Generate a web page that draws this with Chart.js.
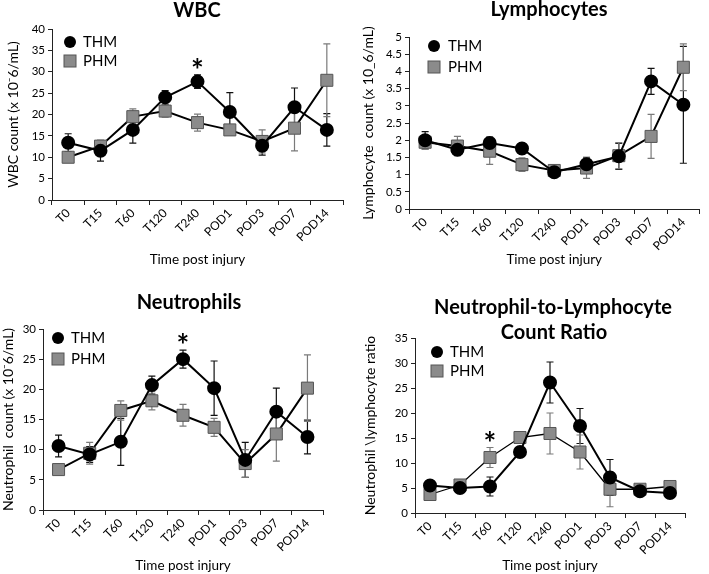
<!DOCTYPE html>
<html>
<head>
<meta charset="utf-8">
<script src="https://cdn.jsdelivr.net/npm/chart.js@4.4.1/dist/chart.umd.min.js"></script>
<style>
  body { margin: 0; background: #fff; width: 709px; height: 574px; position: relative; overflow: hidden; }
  canvas { position: absolute; }
</style>
</head>
<body>
<canvas id="wbc" width="355" height="285" style="left:0;top:0"></canvas>
<canvas id="lym" width="354" height="285" style="left:355px;top:0"></canvas>
<canvas id="neu" width="355" height="289" style="left:0;top:285px"></canvas>
<canvas id="nlr" width="354" height="289" style="left:355px;top:285px"></canvas>
<script>
// time points on the x axis
const timePoints = ['T0', 'T15', 'T60', 'T120', 'T240', 'POD1', 'POD3', 'POD7', 'POD14'];

// WBC count (x 10^6/mL)
const wbcThm    = [13.4, 11.5, 16.4, 24.0, 27.7, 20.6, 12.7, 21.7, 16.4];
const wbcThmErr = [2.1, 2.4, 3.1, 1.6, 1.6, 4.5, 2.2, 4.5, 3.8];
const wbcPhm    = [10.0, 12.6, 19.5, 20.8, 18.1, 16.4, 13.7, 16.8, 28.0];
const wbcPhmErr = [0.8, 1.4, 1.8, 1.4, 2.0, 1.2, 2.7, 5.3, 8.5];

// Lymphocyte count
const lymThm    = [2.0, 1.72, 1.92, 1.76, 1.07, 1.30, 1.53, 3.71, 3.03];
const lymThmErr = [0.25, 0.08, 0.17, 0.06, 0.12, 0.2, 0.38, 0.38, 1.7];
const lymPhm    = [1.94, 1.83, 1.68, 1.29, 1.12, 1.19, 1.55, 2.11, 4.12];
const lymPhmErr = [0.2, 0.28, 0.38, 0.2, 0.1, 0.3, 0.38, 0.64, 0.68];

// Neutrophil count
const neuThm    = [10.6, 9.2, 11.3, 20.7, 25.0, 20.2, 8.3, 16.3, 12.1];
const neuThmErr = [1.8, 1.3, 3.9, 1.5, 1.5, 4.5, 2.9, 3.9, 2.8];
const neuPhm    = [6.7, 9.4, 16.5, 18.1, 15.7, 13.7, 7.7, 12.6, 20.2];
const neuPhmErr = [0.9, 1.8, 1.6, 1.5, 1.8, 1.5, 2.3, 4.5, 5.5];

// Neutrophil-to-lymphocyte ratio
const nlrThm    = [5.5, 5.0, 5.3, 12.2, 26.1, 17.4, 7.1, 4.35, 4.0];
const nlrThmErr = [0.6, 0.4, 1.9, 0.6, 4.1, 3.5, 3.6, 0.3, 0.3];
const nlrPhm    = [3.7, 5.6, 11.1, 15.1, 15.9, 12.2, 4.75, 4.75, 5.3];
const nlrPhmErr = [0.4, 0.4, 2.0, 0.6, 4.1, 3.4, 3.5, 0.3, 0.3];

Chart.defaults.font.family = 'Lato, "Open Sans", sans-serif';
Chart.defaults.color = '#000';

// error bars, titles, legend and significance stars
const panelExtras = {
  id: 'panelExtras',
  beforeDatasetsDraw(chart) {
    const { ctx } = chart;
    const xs = chart.scales.x, ys = chart.scales.y;
    chart.data.datasets.forEach(ds => {
      if (!ds.errors) return;
      ctx.save();
      ctx.strokeStyle = ds.errorColor;
      ctx.lineWidth = 1.2;
      ds.data.forEach((v, i) => {
        const px = xs.getPixelForValue(i);
        const top = ys.getPixelForValue(v + ds.errors[i]);
        const bot = ys.getPixelForValue(Math.max(v - ds.errors[i], 0));
        ctx.beginPath();
        ctx.moveTo(px, top); ctx.lineTo(px, bot);
        ctx.moveTo(px - 3.5, top); ctx.lineTo(px + 3.5, top);
        ctx.moveTo(px - 3.5, bot); ctx.lineTo(px + 3.5, bot);
        ctx.stroke();
      });
      ctx.restore();
    });
  },
  afterDraw(chart, args, opts) {
    const { ctx } = chart;
    ctx.save();
    // title
    ctx.font = 'bold 20px Lato';
    ctx.textAlign = 'center';
    ctx.textBaseline = 'middle';
    ctx.fillStyle = '#000';
    opts.titles.forEach(t => ctx.fillText(t.text, t.x, t.y));

    // legend
    const lg = opts.legend;
    ctx.beginPath();
    ctx.arc(lg.x, lg.y1, 6, 0, Math.PI * 2);
    ctx.fill();
    ctx.fillStyle = '#8b8b8b';
    ctx.strokeStyle = '#555';
    ctx.lineWidth = 1;
    ctx.fillRect(lg.x - 6, lg.y2 - 6, 12, 12);
    ctx.strokeRect(lg.x - 6, lg.y2 - 6, 12, 12);
    ctx.fillStyle = '#000';
    ctx.font = '15px Lato';
    ctx.textAlign = 'left';
    ctx.fillText('THM', lg.tx, lg.y1);
    ctx.fillText('PHM', lg.tx, lg.y2);

    // stars
    const xs = chart.scales.x, ys = chart.scales.y;
    ctx.font = 'bold 30px Lato';
    ctx.textAlign = 'center';
    ctx.textBaseline = 'alphabetic';
    (opts.stars || []).forEach(i => {
      let hi = 0;
      chart.data.datasets.forEach(ds => { hi = Math.max(hi, ds.data[i] + ds.errors[i]); });
      const py = ys.getPixelForValue(hi) - 10;
      ctx.fillText('*', xs.getPixelForValue(i), py + 16);
    });
    ctx.restore();
  }
};

function makeChart(id, cfg) {
  return new Chart(document.getElementById(id), {
    type: 'line',
    data: {
      labels: timePoints,
      datasets: [
        {
          label: 'THM', data: cfg.thm, errors: cfg.thmErr, errorColor: '#111',
          borderColor: '#000', borderWidth: 2, tension: 0,
          pointStyle: 'circle', pointRadius: 6,
          pointBackgroundColor: '#000', pointBorderColor: '#000'
        },
        {
          label: 'PHM', data: cfg.phm, errors: cfg.phmErr, errorColor: '#7a7a7a',
          borderColor: '#000', borderWidth: cfg.phmWidth, tension: 0,
          pointStyle: 'rect', pointRadius: 8.5, pointBorderWidth: 1,
          pointBackgroundColor: '#8b8b8b', pointBorderColor: '#555'
        }
      ]
    },
    options: {
      responsive: false,
      animation: false,
      layout: { padding: cfg.padding },
      plugins: {
        legend: { display: false },
        tooltip: { enabled: false },
        panelExtras: { titles: cfg.titles, legend: cfg.legend, stars: cfg.stars }
      },
      scales: {
        x: {
          offset: true,
          grid: { offset: true, drawOnChartArea: false, tickLength: 5, color: '#222' },
          border: { color: '#222' },
          ticks: { minRotation: 45, maxRotation: 45, autoSkip: false, font: { size: 12 }, padding: 1 },
          title: { display: true, text: 'Time post injury', font: { size: 13.5 }, padding: { top: 0, bottom: cfg.xTitlePad } },
          afterFit: s => { s.height = cfg.xHeight; }
        },
        y: {
          min: 0, max: cfg.yMax,
          ticks: { stepSize: cfg.step, autoSkip: false, font: { size: 11.5 }, padding: 3, callback: v => String(+v.toFixed(2)) },
          grid: { drawOnChartArea: false, tickLength: 4, color: '#222' },
          border: { color: '#222' },
          title: { display: true, text: cfg.yTitle, font: { size: 14 }, padding: { top: cfg.yTitlePad, bottom: 0 } },
          afterFit: s => { s.width = cfg.yWidth; }
        }
      }
    },
    plugins: [panelExtras]
  });
}

makeChart('wbc', {
  thm: wbcThm, thmErr: wbcThmErr, phm: wbcPhm, phmErr: wbcPhmErr, phmWidth: 2,
  yMax: 40, step: 5, yTitle: 'WBC count (x 10\u207B6/mL)',
  padding: { top: 29, right: 12, left: 0, bottom: 13 }, yWidth: 52, xHeight: 72,
  xTitlePad: 4, yTitlePad: 4.6,
  titles: [{ text: 'WBC', x: 197, y: 11 }],
  legend: { x: 70, y1: 42, y2: 61, tx: 83 },
  stars: [4]
});

makeChart('lym', {
  thm: lymThm, thmErr: lymThmErr, phm: lymPhm, phmErr: lymPhmErr, phmWidth: 2,
  yMax: 5, step: 0.5, yTitle: 'Lymphocyte  count (x 10_6/mL)',
  padding: { top: 37, right: 4, left: 0, bottom: 13 }, yWidth: 54, xHeight: 63,
  xTitlePad: 4, yTitlePad: 4.6,
  titles: [{ text: 'Lymphocytes', x: 194, y: 10 }],
  legend: { x: 79, y1: 46, y2: 67, tx: 93 },
  stars: []
});

makeChart('neu', {
  thm: neuThm, thmErr: neuThmErr, phm: neuPhm, phmErr: neuPhmErr, phmWidth: 2,
  yMax: 30, step: 5, yTitle: 'Neutrophil  count (x 10\u207B6/mL)',
  padding: { top: 44, right: 32, left: 0, bottom: 0 }, yWidth: 43, xHeight: 64,
  xTitlePad: 0, yTitlePad: 0,
  titles: [{ text: 'Neutrophils', x: 189, y: 18 }],
  legend: { x: 58, y1: 53, y2: 74, tx: 71 },
  stars: [4]
});

makeChart('nlr', {
  thm: nlrThm, thmErr: nlrThmErr, phm: nlrPhm, phmErr: nlrPhmErr, phmWidth: 1.3,
  yMax: 35, step: 5, yTitle: 'Neutrophil \\lymphocyte ratio',
  padding: { top: 53, right: 24, left: 0, bottom: 0 }, yWidth: 60, xHeight: 61,
  xTitlePad: 0, yTitlePad: 6.6,
  titles: [{ text: 'Neutrophil-to-Lymphocyte', x: 198, y: 23 }, { text: 'Count Ratio', x: 199, y: 48 }],
  legend: { x: 82, y1: 67, y2: 86, tx: 95 },
  stars: [2]
});
</script>
</body>
</html>
